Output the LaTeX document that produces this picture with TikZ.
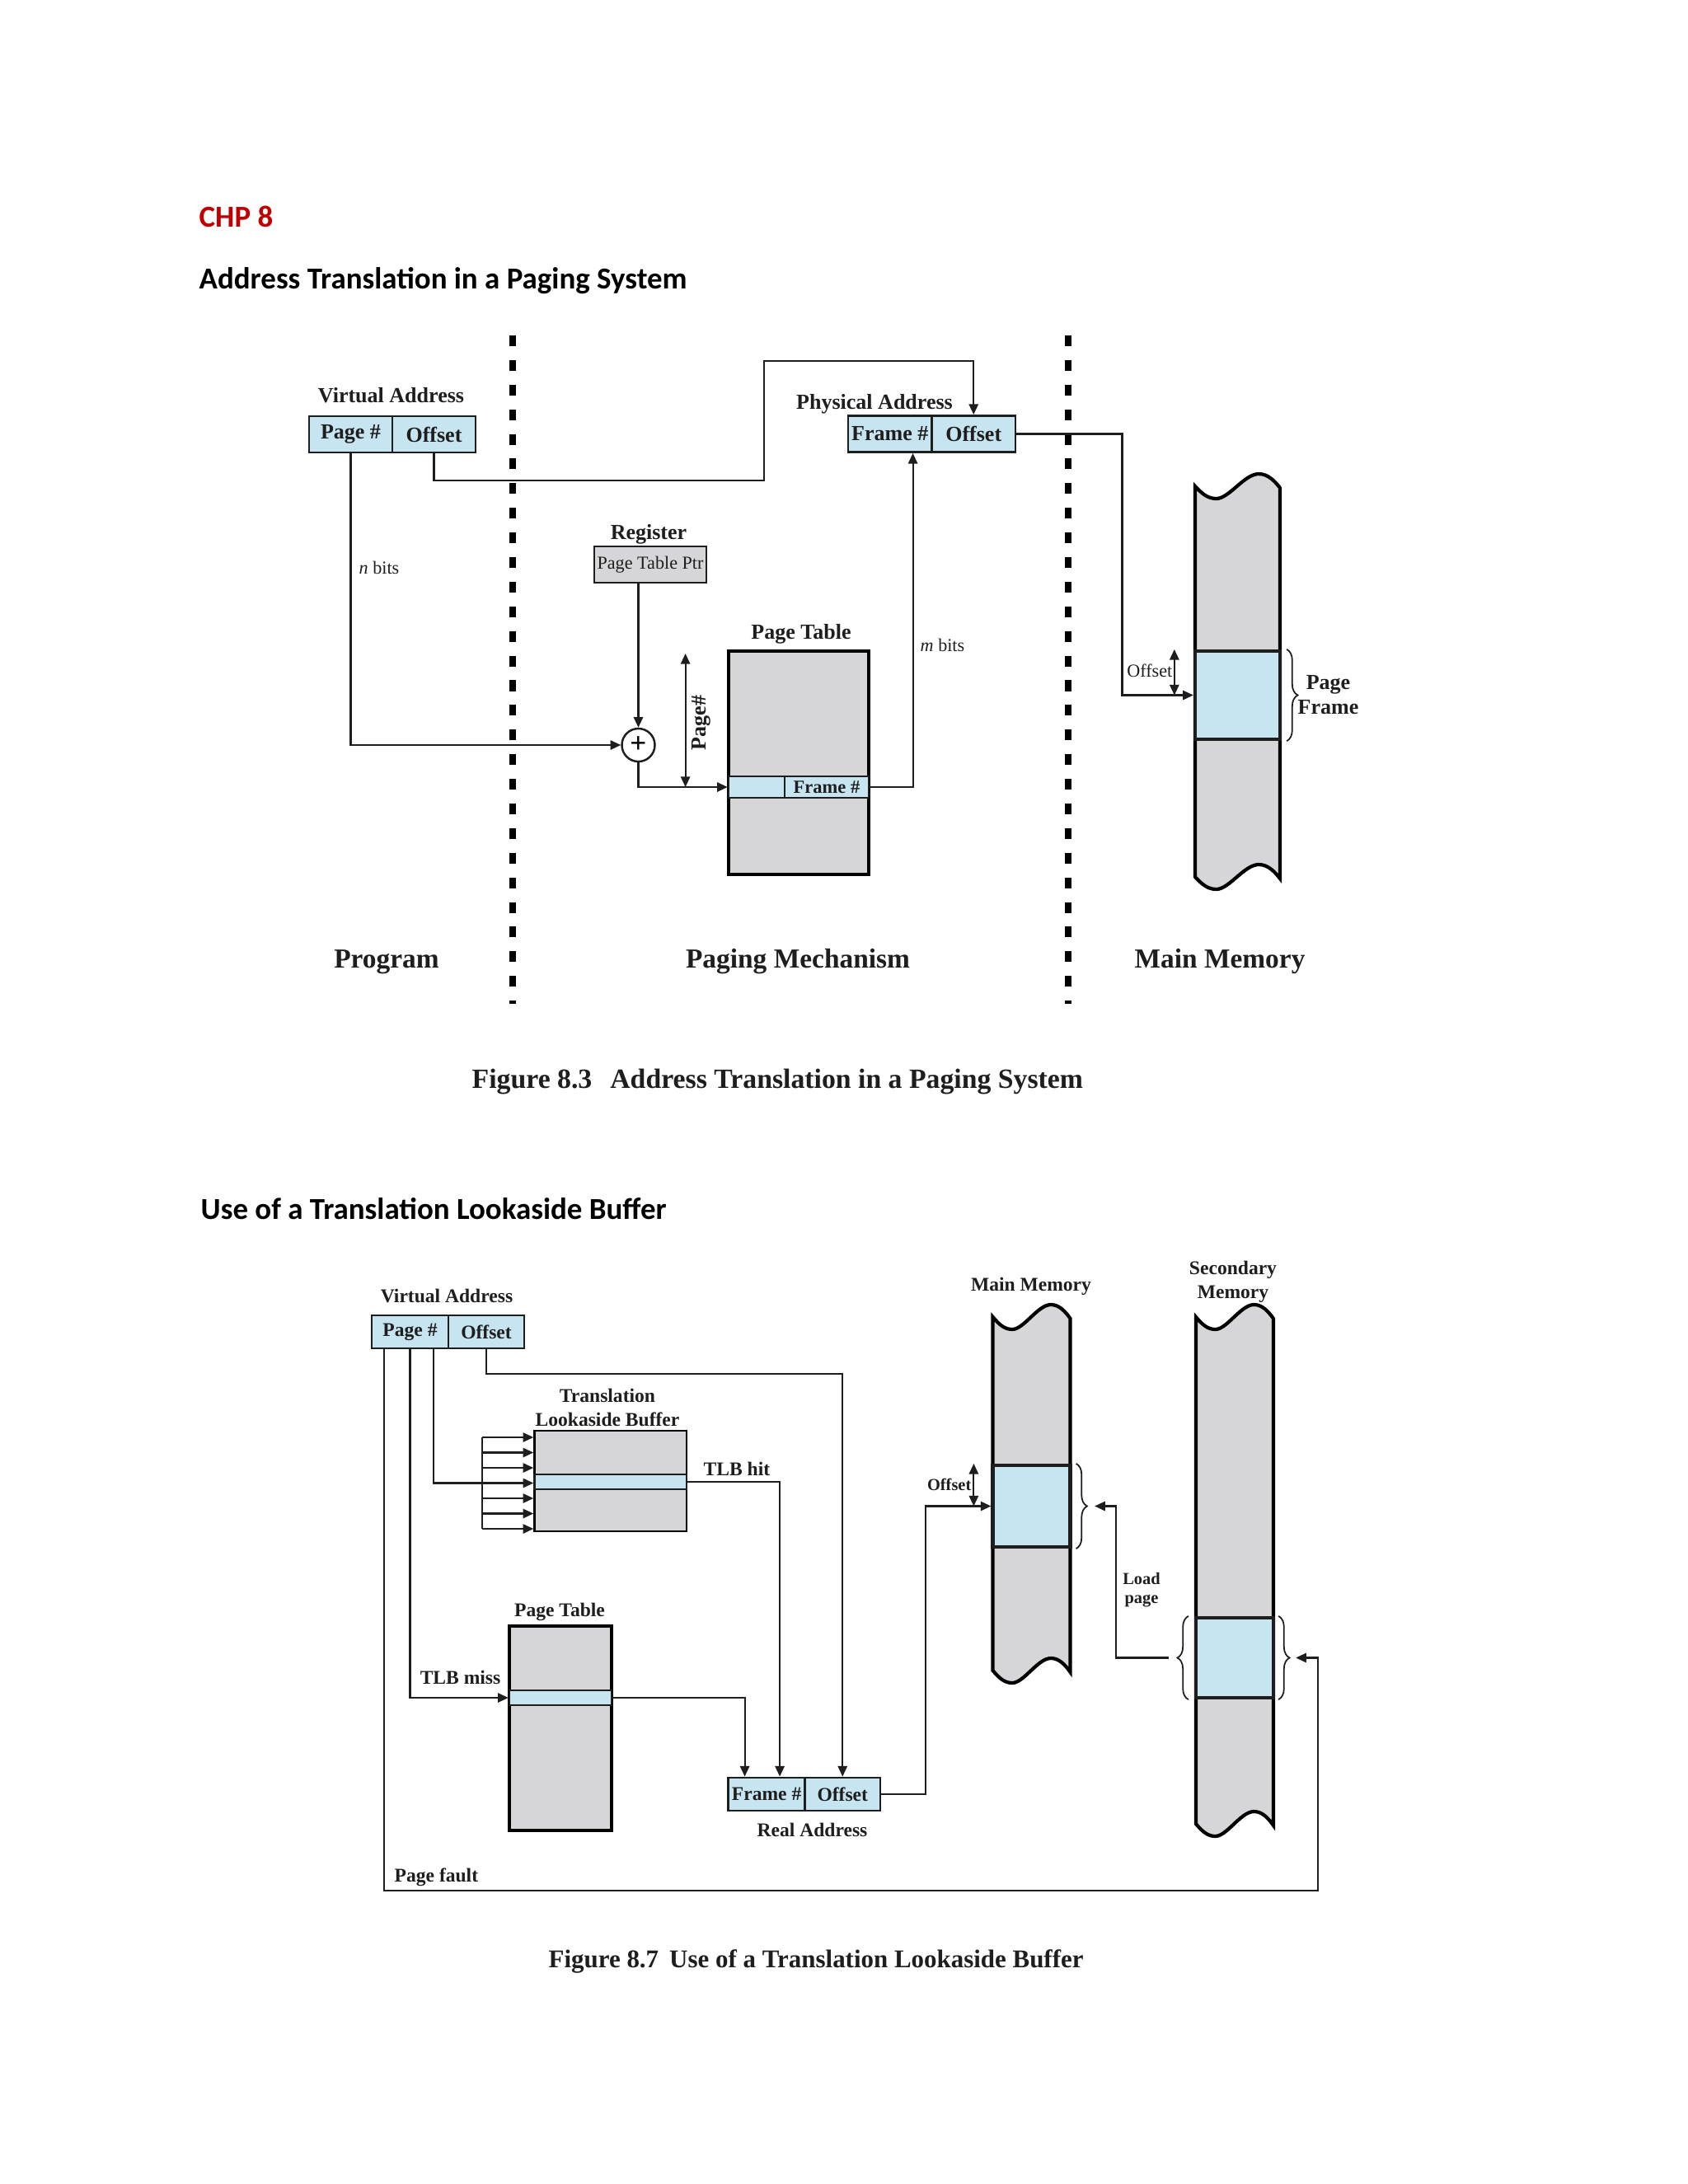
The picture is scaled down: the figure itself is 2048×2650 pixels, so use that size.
\documentclass[tikz,border=0pt]{standalone}
\usepackage{fontspec}
\setmainfont{Liberation Serif}
\newfontfamily\hdfont{Carlito}
\usetikzlibrary{arrows.meta,decorations.pathreplacing}
\definecolor{cellblue}{RGB}{199,228,241}
\definecolor{memgray}{RGB}{214,214,216}
\definecolor{chpred}{RGB}{192,0,0}
\definecolor{ink}{RGB}{30,30,30}
\newcommand{\memcol}[4]{%
  \begin{scope}[shift={(#1,#2)},xscale=#3/100]
    \filldraw[fill=memgray,draw=black,line width=1.2pt] (0,0) .. controls (8,9) and (15,15) .. (25,15)
      .. controls (40,15) and (58,-15) .. (75,-15) .. controls (86,-15) and (94,-6) .. (100,2)
      -- (100,#4+2) .. controls (94,#4-6) and (86,#4-15) .. (75,#4-15)
      .. controls (58,#4-15) and (40,#4+15) .. (25,#4+15) .. controls (15,#4+15) and (8,#4+9) .. (0,#4) -- cycle;
  \end{scope}}

\begin{document}
\begin{tikzpicture}[x=0.01cm,y=-0.01cm,
  conn/.style={draw=ink,line width=0.6pt},
  arr/.style={conn,-{Triangle[length=3.6pt,width=3.2pt]}},
  dbl/.style={conn,{Triangle[length=3.6pt,width=3.2pt]}-{Triangle[length=3.6pt,width=3.2pt]}},
  brc/.style={draw=ink,line width=0.5pt,decorate,decoration={brace,amplitude=3.8pt}},
  divider/.style={line width=2pt,dash pattern=on 3.7pt off 4.8pt},
  fld/.style={draw=ink,line width=0.8pt,fill=cellblue,inner sep=0pt,minimum height=0.44cm,text=ink,font=\fontsize{7.4}{8.6}\selectfont\bfseries},
  fldb/.style={fld,minimum height=0.40cm,font=\fontsize{6.7}{8}\selectfont\bfseries},
  tbl/.style={draw=black,line width=1.2pt,fill=memgray,inner sep=0pt},
  slot/.style={draw=ink,line width=0.7pt,fill=cellblue,inner sep=0pt},
  lbl/.style={text=ink,inner sep=0pt,font=\fontsize{7.4}{8.6}\selectfont\bfseries},
  note/.style={text=ink,inner sep=0pt,font=\fontsize{6.3}{7.5}\selectfont},
  lblb/.style={text=ink,inner sep=0pt,font=\fontsize{6.7}{8.25}\selectfont\bfseries},
  noteb/.style={text=ink,inner sep=0pt,font=\fontsize{5.8}{6.5}\selectfont\bfseries},
  zone/.style={text=ink,inner sep=0pt,font=\fontsize{9.5}{11}\selectfont\bfseries},
  figcap/.style={text=ink,inner sep=0pt,font=\fontsize{9.6}{11}\selectfont\bfseries},
  heading/.style={inner sep=0pt,anchor=base west,font=\hdfont\fontsize{10.5}{12.6}\selectfont\bfseries}]
 \useasboundingbox (0,0) rectangle (2048,2650);
 \fill[white] (0,0) rectangle (2048,2650);

 \node[heading,text=chpred] (chp) at (241,275) {CHP 8};
 \node[heading] (h1) at (241,350) {Address Translation in a Paging System};
 \node[heading] (h2) at (243,1479) {Use of a Translation Lookaside Buffer};

 % Figure 8.3
 \draw[divider] (622,407) -- (622,1218);
 \draw[divider] (1296,407) -- (1296,1218);

 \node[fld,minimum width=1.01cm] (vapg) at (425.5,527) {Page \#};
 \node[fld,minimum width=1.01cm] (vaoff) at (526.5,527) {Offset};
 \node[lbl,anchor=base] (valbl) at (474.5,488) {Virtual Address};
 \node[fld,minimum width=1.015cm] (pafr) at (1079.75,526.5) {Frame \#};
 \node[fld,minimum width=1.015cm] (paoff) at (1181.25,526.5) {Offset};
 \node[lbl,anchor=base] (palbl) at (1061,496) {Physical Address};
 \node[note,draw=ink,line width=0.7pt,fill=memgray,minimum width=1.36cm,minimum height=0.435cm] (reg) at (789,685) {Page Table Ptr};
 \node[lbl,anchor=base] (reglbl) at (787,654) {Register};
 \node[circle,draw=ink,line width=0.7pt,minimum size=0.4cm,inner sep=0pt,fill=white,font=\bfseries] (plus) at (774.5,904) {+};
 \node[tbl,minimum width=1.70cm,minimum height=2.71cm] (pt) at (969,925.5) {};
 \node[slot,minimum width=0.68cm,minimum height=0.26cm] (ptl) at (918,955) {};
 \node[slot,minimum width=1.02cm,minimum height=0.26cm,text=ink,font=\fontsize{6.4}{7.5}\selectfont\bfseries] (ptfr) at (1003,955) {Frame \#};
 \node[lbl,anchor=base] (ptlbl) at (972,775) {Page Table};
 \memcol{1450}{590}{103}{474}
 \node[slot,line width=1.2pt,minimum width=1.03cm,minimum height=1.07cm] (mfr) at (1501.5,843.5) {};
 \draw[brc] ([xshift=0.6mm]mfr.north east) -- ([xshift=0.6mm]mfr.south east);
 \node[lbl,align=center,anchor=west,font=\fontsize{7.4}{8.6}\selectfont\bfseries] (pflbl) at (1574,843) {Page\\Frame};
 \draw[dbl] ([xshift=-2.3mm]mfr.north west) -- ([xshift=-2.3mm]mfr.west);
 \node[note,anchor=east] (offlbl) at (1423,814) {Offset};

 \draw[arr] (vapg.south) |- (plus.west);
 \node[note,anchor=west] (nbits) at (435,689) {\textit{n} bits};
 \coordinate (vo1) at (927,583);
 \coordinate (vo2) at (927,438);
 \draw[arr] (vaoff.south) |- (vo1) -- (vo2) -| (paoff.north);
 \draw[arr] (reg.south -| plus.north) -- (plus.north);
 \draw[arr] (plus.south) |- (ptl.west);
 \coordinate (pgtop) at (831.6,793);
 \coordinate (pgbot) at (831.6,955);
 \draw[dbl] (pgtop) -- (pgbot);
 \node[lbl,rotate=90] (pglbl) at (851,877) {Page\#};
 \draw[arr] (ptfr.east) -| ([xshift=2.78mm]pafr.south);
 \node[note,anchor=west] (mbits) at (1116,783) {\textit{m} bits};
 \draw[arr] (paoff.east) -- ++(128,0) |- (mfr.west);

 \node[zone,anchor=base] (prog) at (469,1174) {Program};
 \node[zone,anchor=base] (pmech) at (968,1174) {Paging Mechanism};
 \node[zone,anchor=base] (mmem) at (1480,1174) {Main Memory};
 \node[figcap,anchor=base west] (cap1) at (572,1320) {Figure 8.3\hspace{0.22cm}Address Translation in a Paging System};

 % Figure 8.7
 \node[fldb,minimum width=0.93cm] (vbpg) at (497.5,1616) {Page \#};
 \node[fldb,minimum width=0.92cm] (vboff) at (590,1616) {Offset};
 \node[lblb,anchor=base] (vblbl) at (542,1580) {Virtual Address};
 \node[tbl,line width=0.8pt,minimum width=1.843cm,minimum height=1.22cm] (tlb) at (740.85,1797) {};
 \node[slot,minimum width=1.843cm,minimum height=0.18cm] (tlbrow) at (740.85,1798) {};
 \node[lblb,align=center] (tlblbl) at (737,1708) {Translation\\Lookaside Buffer};
 \foreach \i in {0,...,6} \coordinate (bus\i) at (585,1744+\i*18.5);
 \draw[conn] (bus0) -- (bus6);
 \foreach \i in {0,...,6} \draw[arr] (bus\i) -- (bus\i -| tlb.west);
 \draw[conn] ([xshift=2.85mm]vbpg.south) |- (bus3);

 \node[tbl,minimum width=1.24cm,minimum height=2.48cm] (pt2) at (680,2097) {};
 \node[slot,minimum width=1.24cm,minimum height=0.18cm] (pt2row) at (680,2060) {};
 \node[lblb,anchor=base] (pt2lbl) at (679,1961) {Page Table};
 \node[fldb,minimum width=0.928cm] (rafr) at (930.1,2177) {Frame \#};
 \node[fldb,minimum width=0.915cm] (raoff) at (1022.25,2177) {Offset};
 \node[lblb,anchor=base] (ralbl) at (985.5,2228) {Real Address};

 \memcol{1204.6}{1598}{94}{429}
 \memcol{1451}{1598}{94}{615}
 \node[slot,line width=1.2pt,minimum width=0.939cm,minimum height=0.99cm] (mfr2) at (1251.5,1827.5) {};
 \node[slot,line width=1.2pt,minimum width=0.94cm,minimum height=0.97cm] (sfr) at (1498,2011.5) {};
 \node[lblb,anchor=base] (mmlbl) at (1251,1566) {Main Memory};
 \node[lblb,align=center] (smlbl) at (1496,1555) {Secondary\\Memory};

 \draw[arr] (vboff.south) -- ++(0,30) -| (raoff.north);
 \draw[arr] (tlbrow.east) -| ([xshift=1.6mm]rafr.north);
 \node[lblb,anchor=base west] (hitlbl) at (853,1790) {TLB hit};
 \draw[arr] (vbpg.south) |- (pt2row.west);
 \node[lblb,anchor=base east] (misslbl) at (608,2043) {TLB miss};
 \draw[arr] (pt2row.east) -| ([xshift=-2.65mm]rafr.north);
 \draw[arr] (raoff.east) -- ++(54,0) |- (mfr2.west);
 \draw[dbl] ([xshift=-2.1mm]mfr2.north west) -- ([xshift=-2.1mm]mfr2.west);
 \node[noteb,anchor=east] (off2lbl) at (1179,1801) {Offset};
 \draw[brc] ([xshift=0.5mm]mfr2.north east) -- ([xshift=0.5mm]mfr2.south east);
 \draw[brc] ([xshift=-0.7mm]sfr.south west) -- ([xshift=-0.7mm]sfr.north west);
 \draw[brc] ([xshift=0.4mm]sfr.north east) -- ([xshift=0.4mm]sfr.south east);
 \draw[arr] ([xshift=-3.1mm]sfr.west) -- ++(-64,0) |- ([xshift=2.75mm]mfr2.east);
 \node[noteb,align=center] (ldlbl) at (1385,1929) {Load\\page};
 \coordinate (pfc) at (1599,2294);
 \draw[arr] ([xshift=-3.19mm]vbpg.south) |- (pfc) |- ([xshift=2.5mm]sfr.east);
 \node[lblb,anchor=base west] (pflt) at (478,2283) {Page fault};
 \node[figcap,anchor=base west,font=\fontsize{8.8}{10.5}\selectfont\bfseries] (cap2) at (665,2387) {Figure 8.7\hspace{0.13cm}Use of a Translation Lookaside Buffer};
\end{tikzpicture}
\end{document}
